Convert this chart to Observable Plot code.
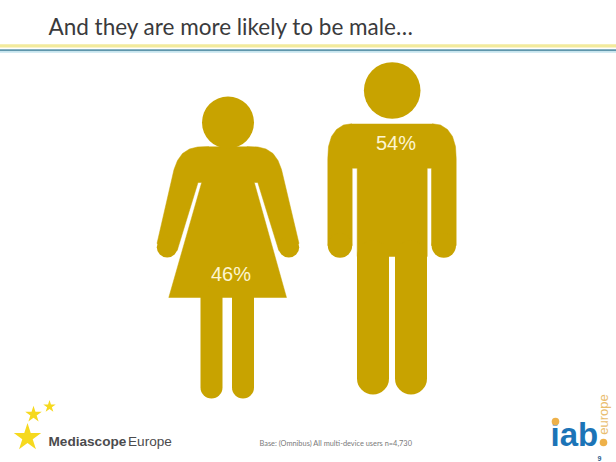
<!DOCTYPE html>
<html>
<head>
<meta charset="utf-8">
<script src="https://cdn.jsdelivr.net/npm/d3@7"></script>
<script src="https://cdn.jsdelivr.net/npm/@observablehq/plot@0.6"></script>
<style>html,body{margin:0;padding:0;background:#fff;overflow:hidden}svg{display:block}</style>
</head>
<body>
<div id="chart"></div>
<script>
const shares = [{label:"46%", x:230.5, y:274}, {label:"54%", x:395.5, y:143}];
const gold = "#c8a300";

const womanBody = [[208,146],[197,146.5],[189,148.5],[182,153],[177,160],[173.5,169],[156.5,243],[176.7,250],[197.5,182],[201.2,182],[168.3,297],[286,297],[253.8,182],[257.3,182],[278.3,250],[298.5,243],[281,169],[277.5,160],[272.5,153],[265.5,148.5],[257.5,146.5],[246.7,146]];
const womanHead = [{x:227.5,y:122,r:26}];
const womanHands = [[166.7,246.7],[288.3,246.7]];
const womanLegs = [[211,297],[211,387],[242.5,387],[242.5,297]];

const manBody = [[351,123.3],[343,124.5],[336,129],[331,136],[328,146],[327.3,158],[327.3,245],[351.7,245],[351.7,167.7],[356.7,167.7],[356.7,256],[426.7,256],[426.7,167.7],[431,167.7],[431,245],[455.7,245],[455.7,158],[455,146],[452,136],[447,129],[440,124.5],[432,123.3]];
const manHead = [{x:391.7,y:90,r:28.3}];
const manHands = [[339.5,245],[443.3,245]];
const manLegTops = [[372.5,256,378],[410.5,256,378]];

const stars = [{x:27,y:437,r:8.6},{x:33,y:414,r:5.2},{x:49,y:406,r:3.9}];
const rules = [{y:45.3,c:"#f2ea9c",w:3.2},{y:49.8,c:"#5f96ab",w:2},{y:51.5,c:"#c5e5ef",w:1.4}];

const pts = a => a.map(([x,y]) => ({x,y}));
const T = (txt, x, y, o) => Plot.text([txt], {x:()=>x, y:()=>y, text:d=>d, textAnchor:"start", lineAnchor:"bottom", ...o});

const chart = Plot.plot({
  width:616, height:462, margin:0,
  x:{domain:[0,616], range:[0,616], axis:null},
  y:{domain:[0,462], range:[0,462], axis:null},
  r:{type:"identity"},
  style:{background:"#fff"},
  marks:[
    ...rules.map(r => Plot.ruleY([r.y], {stroke:r.c, strokeWidth:r.w})),
    T("And they are more likely to be male…", 48, 34, {fontFamily:"Lato", fontSize:22.5, fill:"#3a3a3c"}),

    Plot.line(pts(womanBody), {x:"x", y:"y", fill:gold, stroke:gold, strokeWidth:0.5}),
    Plot.dot(womanHead, {x:"x", y:"y", r:"r", fill:gold}),
    Plot.dot(pts(womanHands), {x:"x", y:"y", r:10.4, fill:gold}),
    Plot.line(pts(womanLegs.slice(0,2)), {x:"x", y:"y", stroke:gold, strokeWidth:22, strokeLinecap:"round"}),
    Plot.line(pts(womanLegs.slice(2)), {x:"x", y:"y", stroke:gold, strokeWidth:22, strokeLinecap:"round"}),

    Plot.line(pts(manBody), {x:"x", y:"y", fill:gold, stroke:gold, strokeWidth:0.5}),
    Plot.dot(manHead, {x:"x", y:"y", r:"r", fill:gold}),
    Plot.dot(pts(manHands), {x:"x", y:"y", r:12.2, fill:gold}),
    ...manLegTops.map(([x,y0,y1]) => Plot.line([{x,y:y0},{x,y:y1}], {x:"x", y:"y", stroke:gold, strokeWidth:32, strokeLinecap:"round"})),

    Plot.text(shares, {x:"x", y:"y", text:"label", fontFamily:"Liberation Sans", fontSize:20, fill:"#fdf5d0"}),

    Plot.dot(stars, {x:"x", y:"y", r:"r", symbol:"star", fill:"#f6d91e"}),
    T("Mediascope", 48, 445, {fontFamily:"Liberation Sans", fontWeight:"bold", fontSize:13.6, fill:"#4b4b4d"}),
    T("Europe", 127.5, 445, {fontFamily:"Liberation Sans", fontSize:13.6, fill:"#4b4b4d"}),
    T("Base: (Omnibus) All multi-device users n=4,730", 259, 445, {fontFamily:"Lato", fontSize:7.4, fill:"#7a7a7a"}),

    T("iab", 550, 445, {fontFamily:"Liberation Sans", fontWeight:"bold", fontSize:33, fill:"#1c74b7"}),
    Plot.dot([{x:555,y:421},{x:603,y:442}], {x:"x", y:"y", r:3.8, fill:"#eeb14a"}),
    Plot.text(["europe"], {x:()=>603, y:()=>414, text:d=>d, rotate:-90, fontFamily:"Liberation Sans", fontSize:13, fill:"#e9bd6e"}),
    T("9", 597, 460, {fontFamily:"Liberation Sans", fontWeight:"bold", fontSize:7, fill:"#2a5f8f"})
  ]
});
document.getElementById("chart").append(chart);
</script>
</body>
</html>
